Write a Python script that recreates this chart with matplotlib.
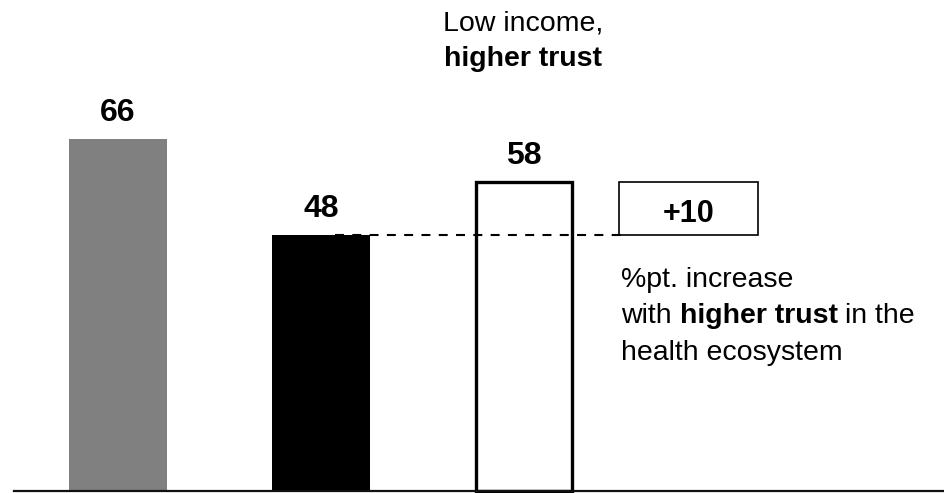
import matplotlib
matplotlib.use("Agg")
import matplotlib.pyplot as plt
from matplotlib.patches import Rectangle
from matplotlib.transforms import IdentityTransform

plt.rcParams['font.family'] = ['Liberation Sans', 'DejaVu Sans']

# ---- data ----
categories = ["All", "Low income", "Low income, higher trust"]
values = [66, 48, 58]
bar_colors = ["#808080", "#000000", "#ffffff"]
value_labels = ["66", "48", "58"]
delta_label = "+10"
header_lines = [[("Low income,", "normal")], [("higher trust", "bold")]]
note_lines = [
    [("%pt. increase", "normal")],
    [("with", "normal"), ("higher trust", "bold"), ("in the", "normal")],
    [("health ecosystem", "normal")],
]

W, H = 945, 493
fig = plt.figure(figsize=(W / 100, H / 100), dpi=100)
ax = fig.add_axes([0, 0, 1, 1])
ax.set_axis_off()

step_px = 203.0
x0_px = 118.0
base_px = 491.0
unit_px = 5.33
ax.set_xlim(-x0_px / step_px, (W - x0_px) / step_px)
ax.set_ylim(-(H - base_px) / unit_px, base_px / unit_px)

pos = list(range(len(categories)))
width = 98 / step_px
for i, (v, c) in enumerate(zip(values, bar_colors)):
    if c == "#ffffff":
        ax.bar(pos[i], v, width=width - 3 / step_px, color=c, edgecolor="black",
               linewidth=2.4, zorder=3)
    else:
        ax.bar(pos[i], v, width=width, color=c, edgecolor="none", zorder=3)

for i, (v, lab) in enumerate(zip(values, value_labels)):
    ax.annotate(lab, xy=(pos[i], v), xytext=(0, 13), textcoords="offset points",
                ha="center", va="baseline", fontsize=23, fontweight="bold")

# baseline
ax.axhline(0, xmin=14 / W, xmax=1, color="#111111", linewidth=1.6, zorder=6)

# dashed reference line at the low-income level
x_dash0 = (335 - x0_px) / step_px
x_dash1 = (625 - x0_px) / step_px
ax.plot([x_dash0, x_dash1], [values[1], values[1]], color="black", linewidth=1.5,
        dashes=(4.3, 4.0), zorder=5)

# delta box
bx0 = (619 - x0_px) / step_px
bx1 = (758 - x0_px) / step_px
ax.add_patch(Rectangle((bx0, values[1]), bx1 - bx0, values[2] - values[1],
                       facecolor="white", edgecolor="black", linewidth=1.2, zorder=4))
ax.text((bx0 + bx1) / 2, values[1] + 2.4, delta_label, ha="center", va="baseline",
        fontsize=22, fontweight="bold", zorder=6)

fig.canvas.draw()
renderer = fig.canvas.get_renderer()
ident = IdentityTransform()


def text_width(s, weight, size):
    t = fig.text(0, 0, s, fontsize=size, fontweight=weight)
    w = t.get_window_extent(renderer).width
    t.remove()
    return w


def draw_line(segments, x, y, size, align="left"):
    sp = text_width("x x", "normal", size) - text_width("xx", "normal", size)
    widths = [text_width(s, wgt, size) for s, wgt in segments]
    total = sum(widths) + sp * (len(segments) - 1)
    if align == "center":
        x = x - total / 2
    for (s, wgt), w in zip(segments, widths):
        fig.text(x, y, s, fontsize=size, fontweight=wgt, ha="left", va="baseline",
                 transform=ident)
        x += w + sp


# header above the third bar
for line, ytop in zip(header_lines, [30.7, 65.7]):
    draw_line(line, 523, H - ytop, 20.5, align="center")

# side note
for line, ytop in zip(note_lines, [287.3, 323.0, 360.0]):
    draw_line(line, 621, H - ytop, 20.5)

fig.savefig("out.png", dpi=100)
